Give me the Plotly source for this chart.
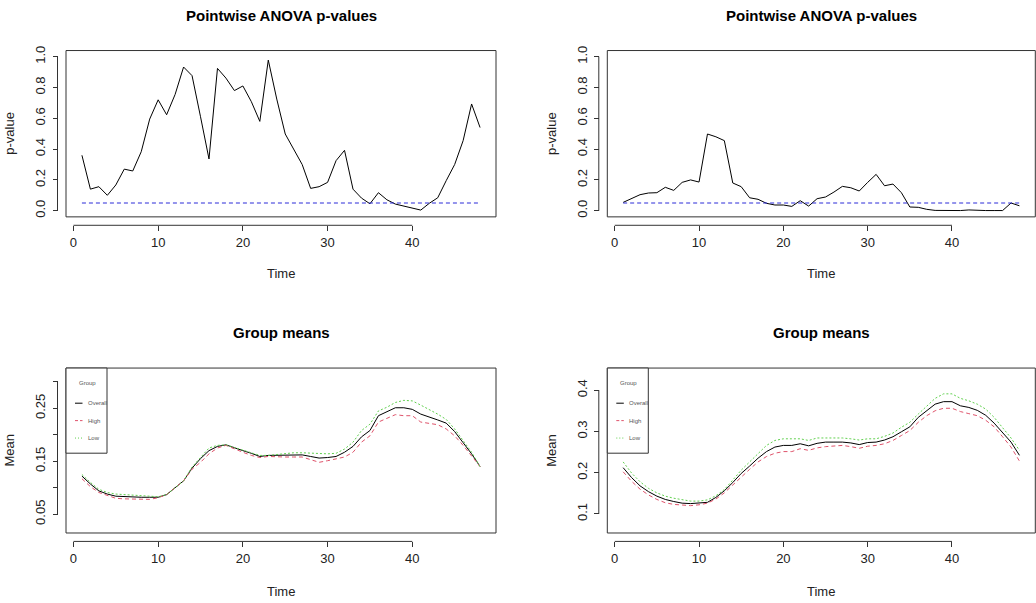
import plotly.graph_objects as go

time = list(range(1, 49))

pval_left = [0.36, 0.14, 0.156, 0.10, 0.167, 0.27, 0.258, 0.383, 0.595, 0.72,
             0.623, 0.755, 0.933, 0.877, 0.61, 0.336, 0.924, 0.861, 0.78, 0.81,
             0.708, 0.58, 0.978, 0.725, 0.498, 0.40, 0.30, 0.145, 0.156, 0.184,
             0.325, 0.392, 0.14, 0.082, 0.045, 0.117, 0.071, 0.043, 0.03, 0.019,
             0.004, 0.048, 0.084, 0.195, 0.30, 0.455, 0.693, 0.54]

pval_right = [0.054, 0.078, 0.104, 0.115, 0.117, 0.152, 0.132, 0.184, 0.20, 0.186,
              0.498, 0.48, 0.455, 0.18, 0.156, 0.084, 0.074, 0.048, 0.037, 0.037,
              0.028, 0.065, 0.03, 0.078, 0.089, 0.121, 0.158, 0.149, 0.128, 0.184,
              0.236, 0.162, 0.173, 0.117, 0.024, 0.022, 0.009, 0.002, 0.001, 0.001,
              0.001, 0.005, 0.001, 0.001, 0.001, 0.001, 0.05, 0.032]

alpha = 0.05

mean_left_overall = [0.122, 0.107, 0.094, 0.088, 0.084, 0.083, 0.082, 0.082, 0.082, 0.082,
                     0.087, 0.10, 0.113, 0.137, 0.155, 0.17, 0.178, 0.181, 0.175, 0.17,
                     0.165, 0.159, 0.161, 0.161, 0.162, 0.162, 0.162, 0.159, 0.156, 0.157,
                     0.159, 0.167, 0.178, 0.196, 0.208, 0.236, 0.244, 0.251, 0.251, 0.248,
                     0.239, 0.234, 0.228, 0.222, 0.206, 0.185, 0.164, 0.14]
mean_left_high = [0.117, 0.102, 0.091, 0.085, 0.08, 0.079, 0.079, 0.078, 0.078, 0.081,
                  0.087, 0.10, 0.113, 0.135, 0.148, 0.164, 0.175, 0.18, 0.173, 0.167,
                  0.161, 0.157, 0.159, 0.158, 0.158, 0.158, 0.158, 0.153, 0.148, 0.151,
                  0.155, 0.158, 0.167, 0.186, 0.198, 0.224, 0.231, 0.238, 0.236, 0.236,
                  0.224, 0.221, 0.219, 0.211, 0.198, 0.18, 0.161, 0.14]
mean_left_low = [0.125, 0.11, 0.097, 0.091, 0.088, 0.087, 0.085, 0.084, 0.083, 0.083,
                 0.087, 0.10, 0.113, 0.139, 0.158, 0.175, 0.18, 0.181, 0.176, 0.171,
                 0.166, 0.161, 0.161, 0.163, 0.165, 0.166, 0.166, 0.165, 0.164, 0.164,
                 0.165, 0.173, 0.186, 0.208, 0.22, 0.245, 0.252, 0.261, 0.265, 0.264,
                 0.256, 0.248, 0.239, 0.229, 0.211, 0.189, 0.167, 0.14]

mean_right_overall = [0.212, 0.188, 0.168, 0.154, 0.143, 0.135, 0.13, 0.126, 0.125, 0.126,
                      0.128, 0.14, 0.156, 0.176, 0.198, 0.216, 0.235, 0.251, 0.262, 0.266,
                      0.266, 0.27, 0.265, 0.271, 0.274, 0.274, 0.274, 0.272, 0.268, 0.273,
                      0.274, 0.279, 0.287, 0.299, 0.311, 0.334, 0.35, 0.366, 0.372, 0.372,
                      0.362, 0.358, 0.351, 0.339, 0.32, 0.297, 0.274, 0.242]
mean_right_high = [0.202, 0.179, 0.16, 0.146, 0.135, 0.127, 0.123, 0.122, 0.12, 0.122,
                   0.126, 0.136, 0.151, 0.17, 0.19, 0.208, 0.226, 0.239, 0.247, 0.251,
                   0.251, 0.258, 0.254, 0.26, 0.263, 0.264, 0.266, 0.263, 0.259, 0.264,
                   0.266, 0.27, 0.278, 0.29, 0.302, 0.322, 0.338, 0.35, 0.356, 0.356,
                   0.348, 0.343, 0.338, 0.327, 0.311, 0.287, 0.262, 0.228]
mean_right_low = [0.226, 0.199, 0.178, 0.162, 0.151, 0.143, 0.138, 0.134, 0.131, 0.131,
                  0.134, 0.144, 0.159, 0.182, 0.206, 0.226, 0.246, 0.266, 0.278, 0.282,
                  0.282, 0.282, 0.278, 0.284, 0.284, 0.284, 0.284, 0.282, 0.279, 0.282,
                  0.282, 0.288, 0.296, 0.31, 0.322, 0.342, 0.362, 0.38, 0.391, 0.391,
                  0.38, 0.374, 0.366, 0.354, 0.334, 0.31, 0.284, 0.254]

x_ticks = [0, 10, 20, 30, 40]
p_ticks = [0.0, 0.2, 0.4, 0.6, 0.8, 1.0]
p_tick_text = ["0.0", "0.2", "0.4", "0.6", "0.8", "1.0"]
ml_ticks = [0.05, 0.10, 0.15, 0.20, 0.25, 0.30]
ml_tick_text = ["0.05", "", "0.15", "", "0.25", ""]
mr_ticks = [0.1, 0.2, 0.3, 0.4]
mr_tick_text = ["0.1", "0.2", "0.3", "0.4"]

legend_title = "Group"
group_names = ["Overall", "High", "Low"]
group_colors = ["black", "#DF536B", "#61D04F"]
group_dash = ["solid", "4px,3px", "2px,2px"]

W, H = 1036, 603
FONT = "Liberation Sans, Arial, sans-serif"
AX = "#333333"


def px(x):
    return x / W


def py(y):
    return 1 - y / H


fig = go.Figure()

panels = {
    1: dict(x0=66, x1=496, y0=46, y1=214),
    2: dict(x0=607.3, x1=1035.3, y0=46, y1=214),
    3: dict(x0=66, x1=496, y0=366.7, y1=533.3),
    4: dict(x0=607.3, x1=1035.3, y0=366.7, y1=533.3),
}
yranges = {1: [-0.04, 1.04], 2: [-0.04, 1.04], 3: [0.0145, 0.326], 4: [0.0537, 0.4535]}
yticks = {1: (p_ticks, p_tick_text), 2: (p_ticks, p_tick_text),
          3: (ml_ticks, ml_tick_text), 4: (mr_ticks, mr_tick_text)}
gap = 8.5

for i, vals in ((1, pval_left), (2, pval_right)):
    xa, ya = ("x", "y") if i == 1 else (f"x{i}", f"y{i}")
    fig.add_trace(go.Scatter(x=time, y=vals, mode="lines", xaxis=xa, yaxis=ya,
                             line=dict(color="black", width=1), showlegend=False))
    fig.add_trace(go.Scatter(x=[time[0], time[-1]], y=[alpha, alpha], mode="lines",
                             xaxis=xa, yaxis=ya,
                             line=dict(color="#2a2ad8", width=1, dash="4px,3px"),
                             showlegend=False))

for i, series in ((3, (mean_left_overall, mean_left_high, mean_left_low)),
                  (4, (mean_right_overall, mean_right_high, mean_right_low))):
    xa, ya = f"x{i}", f"y{i}"
    for name, vals, col, dsh in zip(group_names, series, group_colors, group_dash):
        fig.add_trace(go.Scatter(x=time, y=vals, mode="lines", name=name,
                                 xaxis=xa, yaxis=ya, showlegend=False,
                                 line=dict(color=col, width=1, dash=dsh)))

layout = {}
shapes = []
for i, g in panels.items():
    sx = "" if i == 1 else str(i)
    tv, tt = yticks[i]
    layout[f"xaxis{sx}"] = dict(
        domain=[px(g["x0"]), px(g["x1"])], range=[-0.88, 49.88],
        anchor="free", position=py(g["y1"] + gap),
        tickvals=x_ticks, ticks="outside", ticklen=5, tickcolor=AX,
        showline=False, showgrid=False, zeroline=False,
        tickfont=dict(size=13, color="#222"), ticklabelstandoff=0)
    layout[f"yaxis{sx}"] = dict(
        domain=[py(g["y1"]), py(g["y0"])], range=yranges[i],
        anchor="free", position=px(g["x0"] - gap),
        tickvals=tv, ticktext=tt, ticks="outside", ticklen=5, tickcolor=AX,
        tickangle=-90, showline=False, showgrid=False, zeroline=False,
        tickfont=dict(size=13, color="#222"), ticklabelstandoff=2)
    xr = "x" + sx
    yr = "y" + sx
    shapes.append(dict(type="rect", xref=f"{xr} domain", yref=f"{yr} domain",
                       x0=0, x1=1, y0=0, y1=1, line=dict(color=AX, width=1)))
    shapes.append(dict(type="line", xref=xr, yref="paper",
                       x0=x_ticks[0], x1=x_ticks[-1],
                       y0=py(g["y1"] + gap), y1=py(g["y1"] + gap),
                       line=dict(color=AX, width=1)))
    shapes.append(dict(type="line", xref="paper", yref=yr,
                       x0=px(g["x0"] - gap), x1=px(g["x0"] - gap),
                       y0=tv[0], y1=tv[-1], line=dict(color=AX, width=1)))

annotations = []
titles = {1: "Pointwise ANOVA p-values", 2: "Pointwise ANOVA p-values",
          3: "Group means", 4: "Group means"}
ylabels = {1: "p-value", 2: "p-value", 3: "Mean", 4: "Mean"}
for i, g in panels.items():
    cx = (g["x0"] + g["x1"]) / 2
    ty = 11 if i <= 2 else 331
    time_off = 57 if i <= 2 else 59
    annotations.append(dict(text=f"<b>{titles[i]}</b>", x=px(cx), y=py(ty), xref="paper",
                            yref="paper", showarrow=False, xanchor="center", yanchor="middle",
                            font=dict(size=15, color="black", family=FONT)))
    annotations.append(dict(text="Time", x=px(cx), y=py(g["y1"] + time_off), xref="paper",
                            yref="paper", showarrow=False, xanchor="center", yanchor="middle",
                            font=dict(size=13, color="#222", family=FONT)))
    annotations.append(dict(text=ylabels[i], x=px(g["x0"] - 56), y=py((g["y0"] + g["y1"]) / 2),
                            xref="paper", yref="paper", showarrow=False, textangle=-90,
                            xanchor="center", yanchor="middle",
                            font=dict(size=13, color="#222", family=FONT)))

# legends (drawn in the top-left corner of each group-means panel)
LEG_W, LEG_H = 41, 86
for i in (3, 4):
    g = panels[i]
    lx, ly = g["x0"], g["y0"]
    shapes.append(dict(type="rect", xref="paper", yref="paper",
                       x0=px(lx), x1=px(lx + LEG_W), y0=py(ly + LEG_H), y1=py(ly),
                       line=dict(color=AX, width=1), fillcolor="white", layer="above"))
    annotations.append(dict(text=legend_title, x=px(lx + 21), y=py(ly + 15.5),
                            xref="paper", yref="paper", showarrow=False,
                            xanchor="center", yanchor="middle",
                            font=dict(size=6, color="#555", family=FONT)))
    for k, (name, col, dsh) in enumerate(zip(group_names, group_colors, group_dash)):
        yy = ly + 35.5 + k * 17.6
        shapes.append(dict(type="line", xref="paper", yref="paper",
                           x0=px(lx + 9), x1=px(lx + 16.5), y0=py(yy), y1=py(yy),
                           line=dict(color=col, width=1,
                                     dash="3px,2px" if k == 1 else ("1px,2px" if k == 2 else "solid"))))
        annotations.append(dict(text=name, x=px(lx + 20), y=py(yy),
                                xref="paper", yref="paper", showarrow=False,
                                xanchor="left", yanchor="middle",
                                font=dict(size=6, color="#555", family=FONT)))

fig.update_layout(
    width=W, height=H, margin=dict(l=0, r=0, t=0, b=0),
    paper_bgcolor="white", plot_bgcolor="white",
    font=dict(family=FONT, color="#222"),
    shapes=shapes, annotations=annotations, showlegend=False, **layout)

fig.write_html("out.html")
